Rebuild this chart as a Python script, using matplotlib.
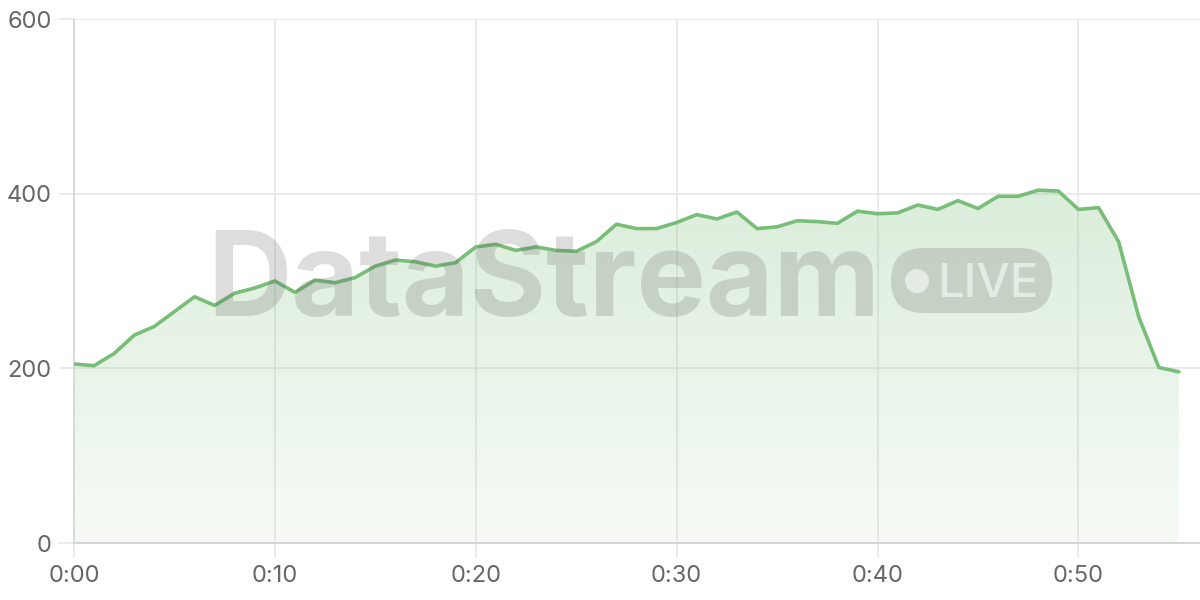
import numpy as np
import matplotlib.pyplot as plt
from matplotlib.patches import FancyBboxPatch, Ellipse, Polygon

minutes = list(range(56))
viewers = [205, 203, 217, 238, 248, 265, 282, 272, 286, 292,
           300, 287, 301, 298, 304, 317, 324, 322, 317, 321,
           339, 342, 335, 339, 335, 334, 345, 365, 360, 360,
           367, 376, 371, 379, 360, 362, 369, 368, 366, 380,
           377, 378, 387, 382, 392, 383, 397, 397, 404, 403,
           382, 384, 345, 259, 201, 196]
x_ticks = [0, 10, 20, 30, 40, 50]
x_labels = ['0:00', '0:10', '0:20', '0:30', '0:40', '0:50']
y_ticks = [0, 200, 400, 600]

line_color = '#78bd78'
grid_color = '#e8e8e8'
text_color = '#666666'

plt.rcParams['font.family'] = ['Inter', 'DejaVu Sans']

fig = plt.figure(figsize=(12, 6), dpi=100)
ax = fig.add_axes([74 / 1200, 57 / 600, 1 - 74 / 1200, (543 - 19) / 600])
ax.set_xlim(0, 56.05)
ax.set_ylim(0, 600)

# gradient fill under the line
verts = [(minutes[0], 0)] + list(zip(minutes, viewers)) + [(minutes[-1], 0)]
poly = Polygon(verts, closed=True, facecolor='none', edgecolor='none')
ax.add_patch(poly)
grad = np.linspace(0.06, 0.26, 256).reshape(-1, 1)
rgba = np.zeros((256, 1, 4))
rgba[..., 0] = 0.45
rgba[..., 1] = 0.73
rgba[..., 2] = 0.45
rgba[..., 3] = grad
img = ax.imshow(rgba, extent=[0, minutes[-1], 0, max(viewers)], origin='lower',
                aspect='auto', zorder=1, interpolation='bilinear')
img.set_clip_path(poly)

ax.plot(minutes, viewers, color=line_color, lw=2.6, zorder=4,
        solid_joinstyle='round', solid_capstyle='round')

# watermark
fig.text(207 / 1200, 1 - 316 / 600, 'DataStream', fontsize=84, fontweight='bold',
         color='#555555', alpha=0.2, ha='left', va='baseline', zorder=5)
badge = FancyBboxPatch((891 / 1200, 1 - 313 / 600), (1052 - 891) / 1200, (313 - 248) / 600,
                       boxstyle='round,pad=0,rounding_size=0.027', transform=fig.transFigure,
                       facecolor='#555555', edgecolor='none', alpha=0.2, zorder=5,
                       mutation_aspect=2)
fig.add_artist(badge)
fig.add_artist(Ellipse((917 / 1200, 1 - 281 / 600), 24 / 1200, 24 / 600,
                       transform=fig.transFigure, facecolor='white', edgecolor='none',
                       alpha=0.55, zorder=6))
fig.text(937 / 1200, 1 - 297 / 600, 'LIVE', fontsize=34, fontweight='medium',
         color='white', alpha=0.55, ha='left', va='baseline', zorder=6)

ax.set_xticks(x_ticks)
ax.set_xticklabels(x_labels)
ax.set_yticks(y_ticks)
ax.grid(True, color=grid_color, lw=1.2, zorder=0)
ax.set_axisbelow(True)
ax.tick_params(axis='both', length=11, width=1.2, color=grid_color, labelcolor=text_color,
               labelsize=17, pad=5)
ax.tick_params(axis='x', pad=5)
for side in ['top', 'right']:
    ax.spines[side].set_visible(False)
ax.spines['left'].set_color('#d6d6d6')
ax.spines['bottom'].set_color('#d0d0d0')
ax.spines['left'].set_linewidth(1.2)
ax.spines['bottom'].set_linewidth(1.2)

fig.savefig('out.png', dpi=100)
